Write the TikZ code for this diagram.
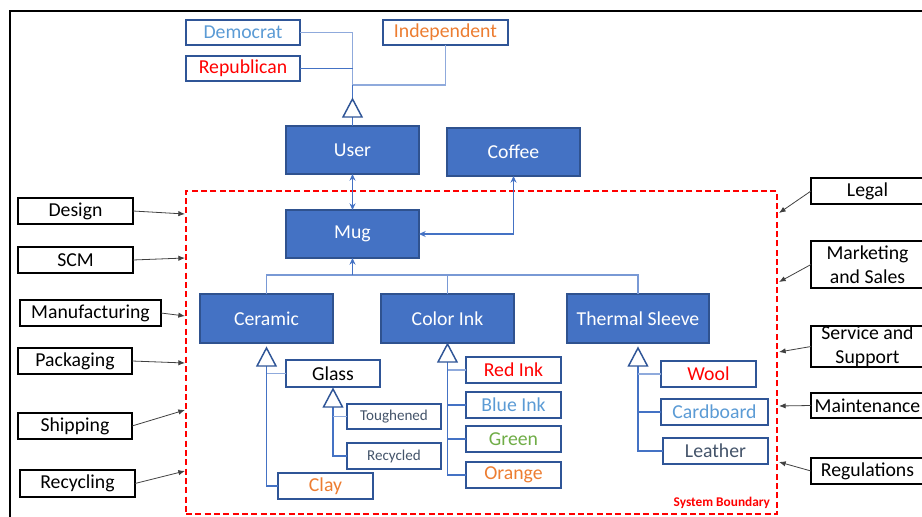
\documentclass[tikz,border=0pt]{standalone}
\usepackage{fontspec}
\setmainfont{Carlito}
\usetikzlibrary{arrows.meta,calc}
\definecolor{boxfill}{HTML}{4472C4}
\definecolor{boxedge}{HTML}{2F528F}
\definecolor{kidedge}{HTML}{2F5597}
\definecolor{linkblue}{HTML}{4472C4}
\definecolor{lightlink}{HTML}{8FAADC}
\definecolor{txtblue}{HTML}{5B9BD5}
\definecolor{txtorange}{HTML}{ED7D31}
\definecolor{txtgreen}{HTML}{70AD47}
\definecolor{txtslate}{HTML}{44546A}
\definecolor{bred}{HTML}{FF0000}

\begin{document}
\begin{tikzpicture}[x=0.75pt,y=-0.75pt,
  wh/.style 2 args={minimum width=#1*0.75pt, minimum height=#2*0.75pt},
  every node/.style={inner sep=0pt, outer sep=0pt, font=\fontsize{14.8}{17}\selectfont},
  classbox/.style={draw=boxedge, fill=boxfill, line width=1.5pt, text=white},
  kidbox/.style={draw=kidedge, fill=white, line width=1.5pt},
  smallkid/.style={kidbox, text=txtslate, font=\fontsize{11.3}{13}\selectfont},
  actor/.style={draw=black, fill=white, line width=1.5pt, align=center, text=black},
  sysbox/.style={draw=bred, line width=1pt, dash pattern=on 4.5pt off 2.5pt},
  conn/.style={draw=linkblue, line width=0.8pt},
  dep/.style={draw=black!75, line width=0.6pt, -{Latex[length=5pt,width=4pt]}},
  link/.style={conn, {Stealth[length=5pt,width=4.5pt]}-{Stealth[length=5pt,width=4.5pt]}},
  uplink/.style={conn, -{Stealth[length=5pt,width=4.5pt]}},
  gentri/.pic={\draw[draw=kidedge, line width=1.1pt, fill=white] (0,0) -- (-9.5,18) -- (9.5,18) -- cycle;},
]
\useasboundingbox (0,0) rectangle (922,517);
\clip (0,0) rectangle (922,517);

% outer frame
\draw[line width=1.6pt] (10,540) -- (10,11) -- (940,11);

% system boundary
\node[sysbox, wh={591}{323}] (sysb) at (481.5,352.5) {};
\node[text=bred, font=\fontsize{10}{11}\selectfont\bfseries, anchor=south east] (sblabel) at (770,509) {System Boundary};

% user categories
\node[kidbox, wh={114}{25}, text=txtblue] (dem) at (243,32.5) {Democrat};
\node[kidbox, wh={114}{25}, text=bred] (rep) at (243,68.5) {Republican};
\node[kidbox, wh={125}{25}, text=txtorange] (ind) at (445.5,32.5) {Independent};

% main classes
\node[classbox, wh={133}{48}] (user) at (352.5,150) {User};
\node[classbox, wh={133}{48}] (coffee) at (513.5,152) {Coffee};
\node[classbox, wh={133}{48}] (mug) at (352.5,234) {Mug};
\node[classbox, wh={133}{49}] (ceramic) at (266.5,318.5) {Ceramic};
\node[classbox, wh={133}{49}] (colorink) at (447.5,318.5) {Color Ink};
\node[classbox, wh={142}{49}] (thermal) at (638,318.5) {Thermal Sleeve};

% ceramic parts
\node[kidbox, wh={94}{27}, text=black] (glass) at (333,373.5) {Glass};
\node[smallkid, wh={94}{25}] (tough) at (394,416.5) {Toughened};
\node[smallkid, wh={94}{26}] (recyc) at (394,456) {Recycled};
\node[kidbox, wh={95}{26}, text=txtorange] (clay) at (325.5,486) {Clay};

% ink colours
\node[kidbox, wh={95}{26}, text=bred] (redink) at (513.5,370) {Red Ink};
\node[kidbox, wh={95}{26}, text=txtblue] (blueink) at (513.5,405) {Blue Ink};
\node[kidbox, wh={95}{26}, text=txtgreen] (green) at (513.5,439) {Green};
\node[kidbox, wh={95}{26}, text=txtorange] (orange) at (513.5,475) {Orange};

% sleeve materials
\node[kidbox, wh={95}{26}, text=bred] (wool) at (708.5,374) {Wool};
\node[kidbox, wh={107}{26}, text=txtblue] (cardboard) at (714.5,412) {Cardboard};
\node[kidbox, wh={105}{26}, text=txtslate] (leather) at (715.5,451) {Leather};

% lifecycle stages (left)
\node[actor, wh={115}{26}] (design) at (75.5,211) {Design};
\node[actor, wh={115}{26}] (scm) at (75.5,260) {SCM};
\node[actor, wh={141}{26}] (manuf) at (90.5,313) {Manufacturing};
\node[actor, wh={114}{26}] (pack) at (75,361) {Packaging};
\node[actor, wh={114}{26}] (ship) at (75,426) {Shipping};
\node[actor, wh={115}{27}] (recyc2) at (77.5,483.5) {Recycling};

% stakeholders (right)
\node[actor, wh={113}{26}] (legal) at (867.5,191) {Legal};
\node[actor, wh={113}{47}, font=\fontsize{14.8}{18}\selectfont] (market) at (867.5,264.5) {Marketing\\and Sales};
\node[actor, wh={113}{41}, font=\fontsize{14.8}{18}\selectfont] (service) at (867.5,346.5) {Service and\\Support};
\node[actor, wh={113}{25}] (maint) at (867.5,405.5) {Maintenance};
\node[actor, wh={113}{26}] (regul) at (867.5,471) {Regulations};

% boundary contact points
\coordinate (bDesign) at (185,214);
\coordinate (bSCM) at (185,258);
\coordinate (bManuf) at (185,316);
\coordinate (bPack) at (185,363);
\coordinate (bShip) at (185,410);
\coordinate (bRecyc) at (185,471);
\coordinate (bLegal) at (779,213);
\coordinate (bMarket) at (779,282);
\coordinate (bService) at (779,352);
\coordinate (bMaint) at (779,406);
\coordinate (bRegul) at (779,462);

\draw[dep] (design.east) -- (bDesign);
\draw[dep] (scm.east) -- (bSCM);
\draw[dep] (manuf.east) -- (bManuf);
\draw[dep] (pack.east) -- (bPack);
\draw[dep] (ship.east) -- (bShip);
\draw[dep] (recyc2.east) -- (bRecyc);
\draw[dep] (legal.west) -- (bLegal);
\draw[dep] (market.west) -- (bMarket);
\draw[dep] (service.west) -- (bService);
\draw[dep] (maint.west) -- (bMaint);
\draw[dep] (regul.west) -- (bRegul);

% user generalisation
\coordinate (uapex) at ($(user.north)+(0,-27)$);
\coordinate (ujoin) at ($(user.north)+(0,-41)$);
\draw[conn, draw=lightlink] (dem.east) -| (uapex);
\draw[conn] (rep.east) -- (rep.east -| uapex);
\draw[conn, draw=lightlink] (ind.south) |- (ujoin);
\draw[conn] (ujoin) -- (uapex);
\draw[conn] ($(uapex)+(0,18)$) -- (user.north);
\pic at (uapex) {gentri};

% associations
\draw[link] (user.south) -- (mug.north);
\draw[link] (coffee.south) |- (mug.east);

% composition bus into mug
\coordinate (bus) at ($(ceramic.north)+(0,-19)$);
\draw[conn, draw=lightlink!70!linkblue] (ceramic.north) -- (bus) -| (thermal.north);
\draw[conn, draw=lightlink!70!linkblue] (colorink.north) -- (colorink.north |- bus);
\draw[uplink] (mug.south |- bus) -- (mug.south);

% ceramic tree
\coordinate (capex) at ($(ceramic.south)+(0,5)$);
\draw[conn] ($(capex)+(0,18)$) |- (clay.west);
\draw[conn, draw=lightlink] (glass.west) -- (glass.west -| capex);
\pic at (capex) {gentri};
\coordinate (gapex) at ($(glass.south)+(0,2)$);
\draw[conn] ($(gapex)+(0,18)$) |- (recyc.west);
\draw[conn, draw=lightlink] (tough.west) -- (tough.west -| gapex);
\pic at (gapex) {gentri};

% ink tree
\coordinate (iapex) at ($(colorink.south)+(0,1)$);
\draw[conn] ($(iapex)+(0,18)$) |- (orange.west);
\draw[conn, draw=lightlink] (redink.west) -- (redink.west -| iapex);
\draw[conn] (blueink.west) -- (blueink.west -| iapex);
\draw[conn] (green.west) -- (green.west -| iapex);
\pic at (iapex) {gentri};

% sleeve tree
\coordinate (tapex) at ($(thermal.south)+(0,5)$);
\draw[conn] ($(tapex)+(0,18)$) |- (leather.west);
\draw[conn, draw=lightlink] (wool.west) -- (wool.west -| tapex);
\draw[conn] (cardboard.west) -- (cardboard.west -| tapex);
\pic at (tapex) {gentri};
\end{tikzpicture}
\end{document}
